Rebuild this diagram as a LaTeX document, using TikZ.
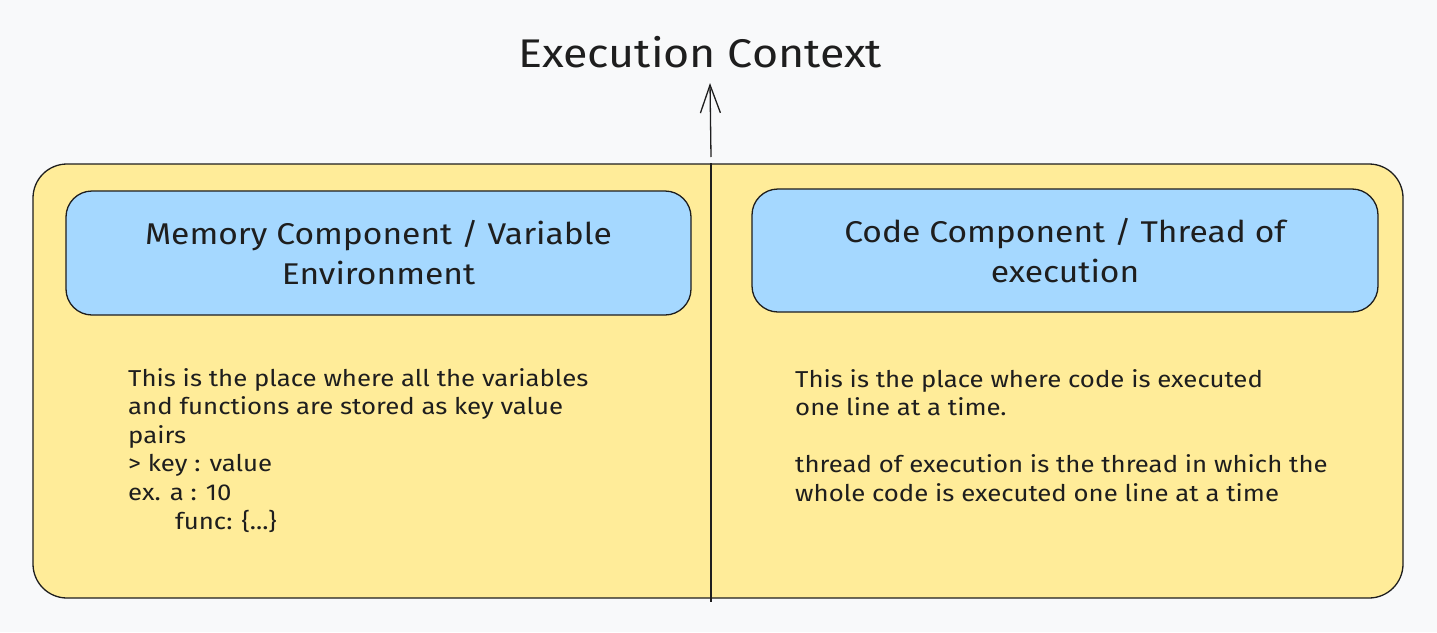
\documentclass[tikz,border=0pt]{standalone}
\usepackage{fontspec}
\setmainfont[FakeStretch=1.12]{Fira Sans}
\usetikzlibrary{arrows.meta}
\definecolor{bgc}{HTML}{F8F9FA}
\definecolor{yel}{HTML}{FFEC99}
\definecolor{blu}{HTML}{A5D8FF}
\definecolor{ink}{HTML}{1E1E1E}
\tikzset{
  outerbox/.style={draw=ink, line width=1.3pt, fill=yel, rounded corners=34pt, inner sep=0pt},
  compbox/.style={draw=ink, line width=1.3pt, fill=blu, rounded corners=26pt, inner sep=0pt, align=center, text=ink, font=\fontsize{30}{40}\selectfont},
  bodytext/.style={align=left, anchor=north west, inner sep=0pt, text=ink, font=\fontsize{23}{28.6}\selectfont},
  titletext/.style={text=ink, font=\fontsize{40}{48}\selectfont},
  divider/.style={draw=ink, line width=1.4pt},
  upconn/.style={draw=ink, line width=1.3pt, -{Straight Barb[length=28pt,width=20pt,line width=1.3pt]}}
}
\begin{document}
\begin{tikzpicture}[x=1pt,y=-1pt]
\fill[bgc] (0,0) rectangle (1437,632);
\useasboundingbox (0,0) rectangle (1437,632);
\node[outerbox, minimum width=1370pt, minimum height=434pt] (outer) at (718,381) {};
\node[compbox, minimum width=625pt, minimum height=124pt] (mem) at (378.5,253) {Memory Component / Variable\\Environment};
\node[compbox, minimum width=626pt, minimum height=123pt] (code) at (1065,250.5) {Code Component / Thread of\\execution};
\node[titletext] (title) at (700,52) {Execution Context};
\node[bodytext] (memtext) at (128,368) {This is the place where all the variables\\and functions are stored as key value\\pairs\\> key : value\\ex. a : 10\\\hspace*{47pt}func: \{...\}};
\node[bodytext] (codetext) at (795,369) {This is the place where code is executed\\one line at a time.\\[28.6pt]thread of execution is the thread in which the\\whole code is executed one line at a time};
\coordinate (divtop) at (711,163);
\coordinate (divbot) at (711,602);
\draw[divider] (divtop) -- (divbot);
\coordinate (arrstart) at (711,157);
\coordinate (arrtip) at (710,83);
\draw[upconn] (arrstart) -- (arrtip);
\end{tikzpicture}
\end{document}
